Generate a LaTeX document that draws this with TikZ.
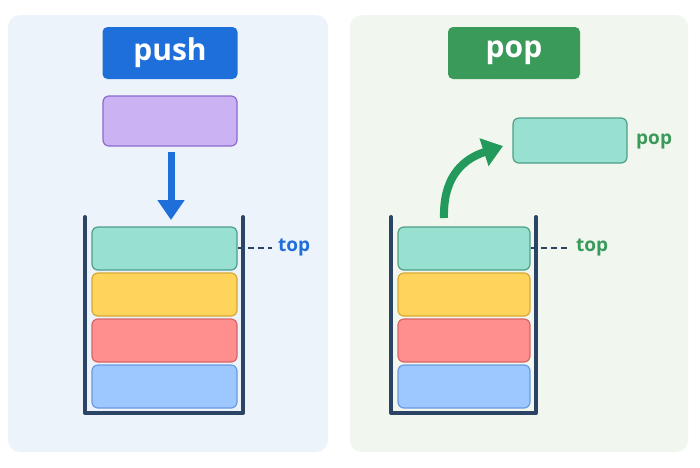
\documentclass[tikz,border=0pt]{standalone}
\usepackage{fontspec}
\setmainfont{Open Sans}
\usetikzlibrary{arrows.meta}
\definecolor{pbg}{HTML}{EDF3FB}
\definecolor{gbg}{HTML}{F1F7EE}
\definecolor{pushc}{HTML}{1E6FD9}
\definecolor{popc}{HTML}{3A9A5A}
\definecolor{wall}{HTML}{2B4466}
\definecolor{arrg}{HTML}{239A5C}
\definecolor{teal}{HTML}{98E0CF}\definecolor{tealb}{HTML}{4E9E88}
\definecolor{yel}{HTML}{FFD45C}\definecolor{yelb}{HTML}{D9A830}
\definecolor{red}{HTML}{FF8E8E}\definecolor{redb}{HTML}{D86565}
\definecolor{blu}{HTML}{9CC8FF}\definecolor{blub}{HTML}{6A9BE0}
\definecolor{pur}{HTML}{CBB2F2}\definecolor{purb}{HTML}{8B6BCF}
\begin{document}
\begin{tikzpicture}[x=1pt,y=-1pt,
  blk/.style={rounded corners=6pt,line width=1.2pt},
  lbl/.style={rounded corners=5pt,text=white,font=\bfseries\fontsize{30}{32}\selectfont,inner sep=0pt},
  wl/.style={draw=wall,line width=4pt,line cap=round,line join=round},
  tp/.style={font=\bfseries\fontsize{19}{21}\selectfont,inner sep=1pt},
  dl/.style={wall,line width=1.2pt,dash pattern=on 6pt off 4pt}]
\useasboundingbox (0,0) rectangle (700,467);
\fill[white] (0,0) rectangle (700,467);
\fill[pbg,rounded corners=12pt] (8,15) rectangle (328,452);
\fill[gbg,rounded corners=12pt] (350,15) rectangle (688,452);
% push side
\node[lbl,fill=pushc,minimum width=135pt,minimum height=52pt] (push) at (170,53) {push};
\draw[blk,fill=pur,draw=purb] (103,96) rectangle (237,146);
\coordinate (a1) at (171,152); \coordinate (a2) at (171,220);
\draw[pushc,line width=7pt,-{Triangle[length=20pt,width=26pt]}] (a1) -- (a2);
\draw[wl] (85,217) -- (85,413) -- (243,413) -- (243,217);
\draw[blk,fill=teal,draw=tealb] (92,227) rectangle (237,270);
\draw[blk,fill=yel,draw=yelb] (92,273) rectangle (237,316);
\draw[blk,fill=red,draw=redb] (92,319) rectangle (237,362);
\draw[blk,fill=blu,draw=blub] (92,365) rectangle (237,408);
\node[tp,text=pushc,anchor=west] (t1) at (277,247) {top};
\coordinate (d1) at (238,248);
\draw[dl] (d1) -- (272,248);
% pop side
\node[lbl,fill=popc,minimum width=132pt,minimum height=52pt] (pop) at (514,53) {pop};
\draw[wl] (391,217) -- (391,413) -- (536,413) -- (536,217);
\draw[blk,fill=teal,draw=tealb] (398,227) rectangle (530,270);
\draw[blk,fill=yel,draw=yelb] (398,273) rectangle (530,316);
\draw[blk,fill=red,draw=redb] (398,319) rectangle (530,362);
\draw[blk,fill=blu,draw=blub] (398,365) rectangle (530,408);
\draw[blk,fill=teal,draw=tealb] (513,118) rectangle (627,163);
\node[tp,text=popc,anchor=west] (p2) at (635,141) {pop};
\node[tp,text=popc,anchor=west] (t2) at (575,247) {top};
\coordinate (d2) at (531,248);
\draw[dl] (d2) -- (568,248);
\coordinate (c1) at (444,218); \coordinate (c2) at (503,146);
\draw[arrg,line width=8pt,-{Triangle[length=20pt,width=28pt]}] (c1) .. controls (443,180) and (460,160) .. (c2);
\end{tikzpicture}
\end{document}
